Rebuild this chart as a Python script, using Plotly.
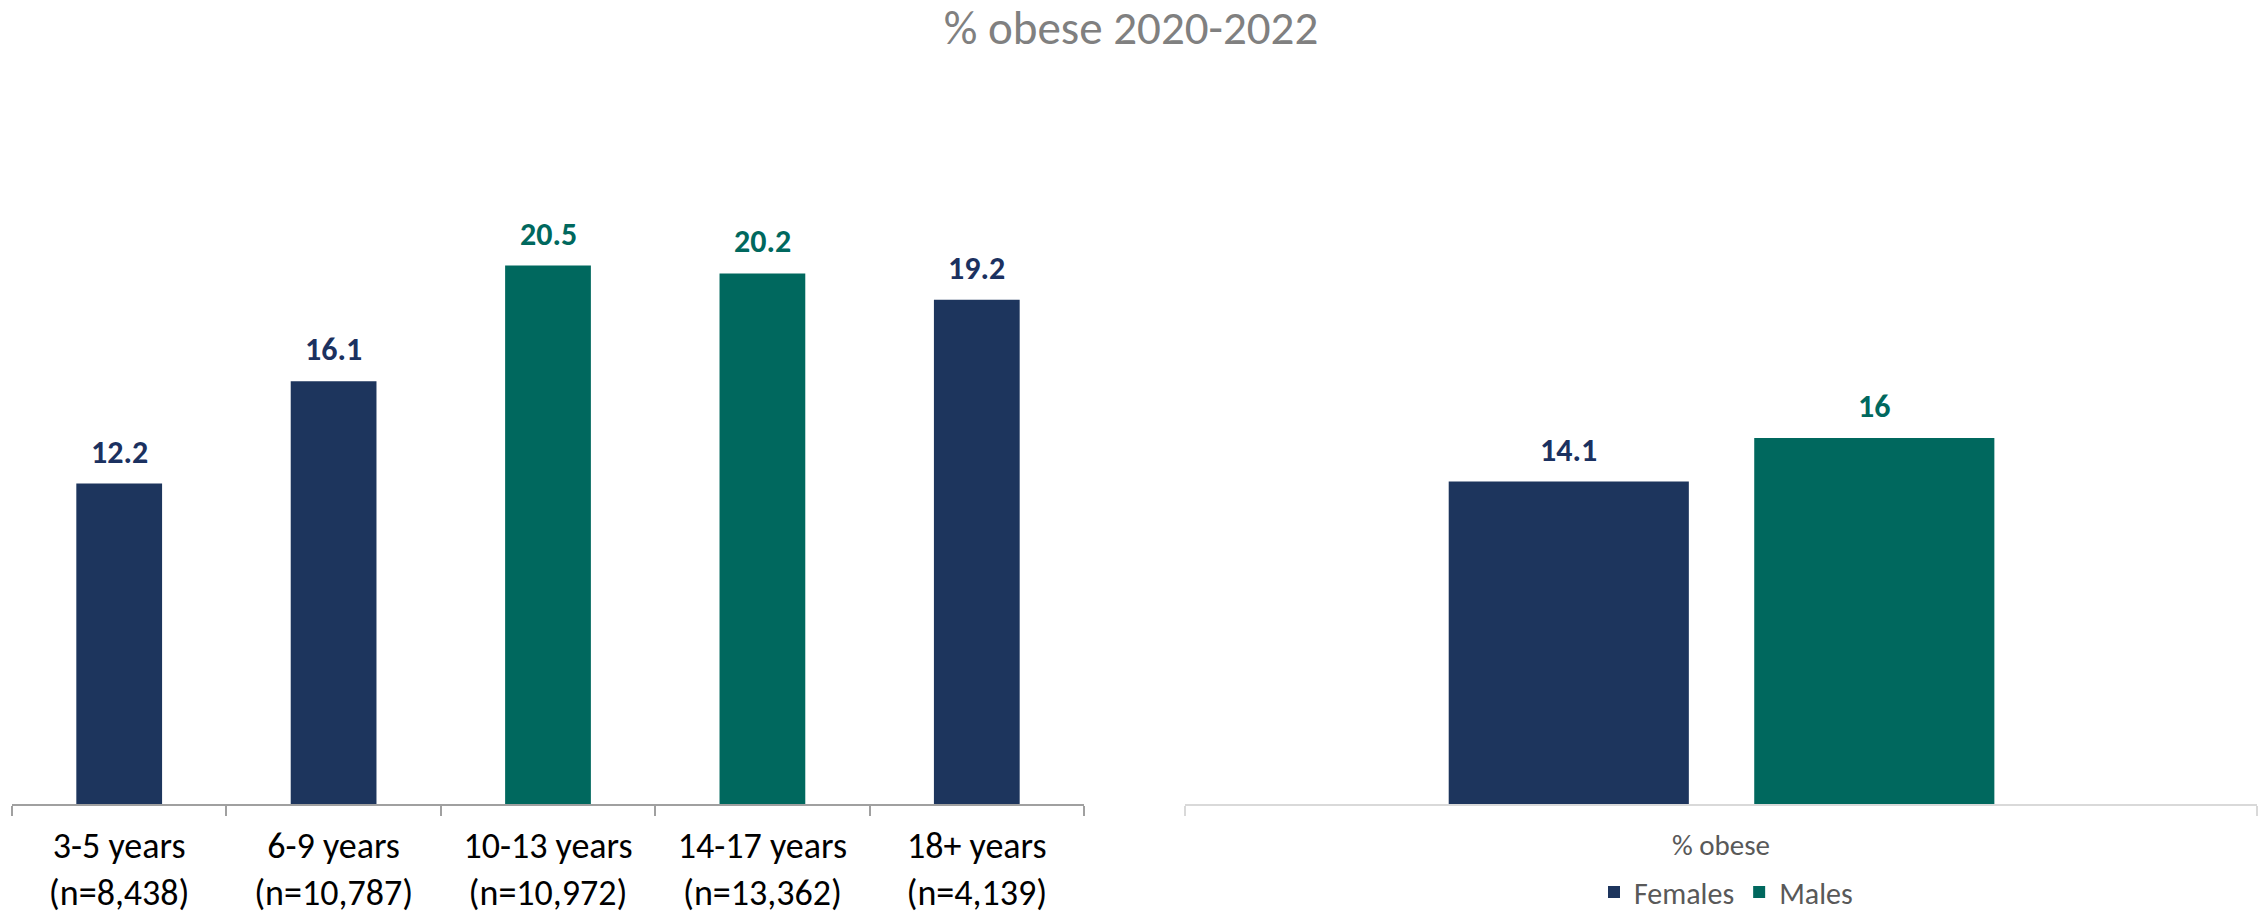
import plotly.graph_objects as go

# Age-group breakdown
age_groups = ["3-5 years", "6-9 years", "10-13 years", "14-17 years", "18+ years"]
age_n = ["8,438", "10,787", "10,972", "13,362", "4,139"]
age_values = [12.2, 16.1, 20.5, 20.2, 19.2]
age_colors = ["#1D355D", "#1D355D", "#00685E", "#00685E", "#1D355D"]

# Sex breakdown
sex_category = "% obese"
sex_labels = ["Females", "Males"]
sex_values = [14.1, 16]
sex_colors = ["#1D355D", "#00685E"]
sex_offsets = [-0.254, 0.031]
sex_width = 0.224

FONT = "Calibri, Carlito, Lato, sans-serif"
NAVY_TXT = "#1B3160"
TEAL_TXT = "#00685E"

fig = go.Figure()

age_ticktext = [f"{g}<br>(n={n})" for g, n in zip(age_groups, age_n)]

fig.add_trace(go.Bar(
    x=age_groups, y=age_values, width=0.4,
    marker=dict(color=age_colors, line=dict(width=0)),
    xaxis="x", yaxis="y", showlegend=False, hoverinfo="x+y",
))

for lab, val, col, off in zip(sex_labels, sex_values, sex_colors, sex_offsets):
    fig.add_trace(go.Bar(
        x=[sex_category], y=[val], name=lab, width=sex_width, offset=off,
        marker=dict(color=col, line=dict(width=0)),
        xaxis="x2", yaxis="y2",
    ))

label_font = dict(family=FONT, size=32, weight="bold")
annotations = []
for g, v, c in zip(age_groups, age_values, age_colors):
    annotations.append(dict(
        x=g, y=v, xref="x", yref="y", text=f"{v}", showarrow=False,
        yanchor="bottom", yshift=10,
        font=dict(label_font, color=NAVY_TXT if c == "#1D355D" else TEAL_TXT),
    ))
for lab, v, c, off in zip(sex_labels, sex_values, sex_colors, sex_offsets):
    annotations.append(dict(
        x=off + sex_width / 2, y=v, xref="x2", yref="y2", text=f"{v:g}", showarrow=False,
        yanchor="bottom", yshift=10,
        font=dict(label_font, color=NAVY_TXT if c == "#1D355D" else TEAL_TXT),
    ))

W, H = 2262, 918
base_px = 805
top_px = 100
y_dom = [(H - base_px) / H, (H - top_px) / H]
plot_h = base_px - top_px

fig.update_layout(
    template="none",
    width=W, height=H,
    margin=dict(l=0, r=0, t=0, b=0, pad=0),
    paper_bgcolor="white", plot_bgcolor="white",
    font=dict(family=FONT),
    title=dict(
        text="% obese 2020-2022", x=0.5, xanchor="center",
        y=1 - 28 / H, yanchor="middle", yref="container", automargin=False,
        font=dict(family=FONT, size=47, color="#808080"),
    ),
    barmode="overlay",
    xaxis=dict(
        domain=[12 / W, 1084 / W], type="category", automargin=False,
        tickmode="array", tickvals=age_groups, ticktext=age_ticktext,
        showline=True, linecolor="#A0A0A0", linewidth=2,
        ticks="outside", tickson="boundaries", ticklen=10, tickwidth=2, tickcolor="#A0A0A0",
        ticklabelstandoff=9,
        tickfont=dict(family=FONT, size=36, color="#000000"),
        showgrid=False, zeroline=False,
    ),
    yaxis=dict(
        domain=y_dom, range=[0, plot_h / 26.3], automargin=False,
        visible=False, showgrid=False, zeroline=False,
    ),
    xaxis2=dict(
        domain=[1185 / W, 2257 / W], type="category", anchor="y2", automargin=False,
        showline=True, linecolor="#D9D9D9", linewidth=2,
        ticks="outside", tickson="boundaries", ticklen=10, tickwidth=2, tickcolor="#D9D9D9",
        ticklabelstandoff=14,
        tickfont=dict(family=FONT, size=29, color="#595959"),
        showgrid=False, zeroline=False,
    ),
    yaxis2=dict(
        domain=y_dom, range=[0, plot_h / 22.9], anchor="x2", automargin=False,
        visible=False, showgrid=False, zeroline=False,
    ),
    legend=dict(
        orientation="h", x=1726 / W, xanchor="center",
        y=(H - 893) / H, yanchor="middle",
        font=dict(family=FONT, size=30, color="#595959"),
        itemsizing="constant", traceorder="normal",
    ),
    annotations=annotations,
)

fig.write_html("out.html", include_plotlyjs=True, full_html=True,
               post_script="document.body.style.margin='0';")
